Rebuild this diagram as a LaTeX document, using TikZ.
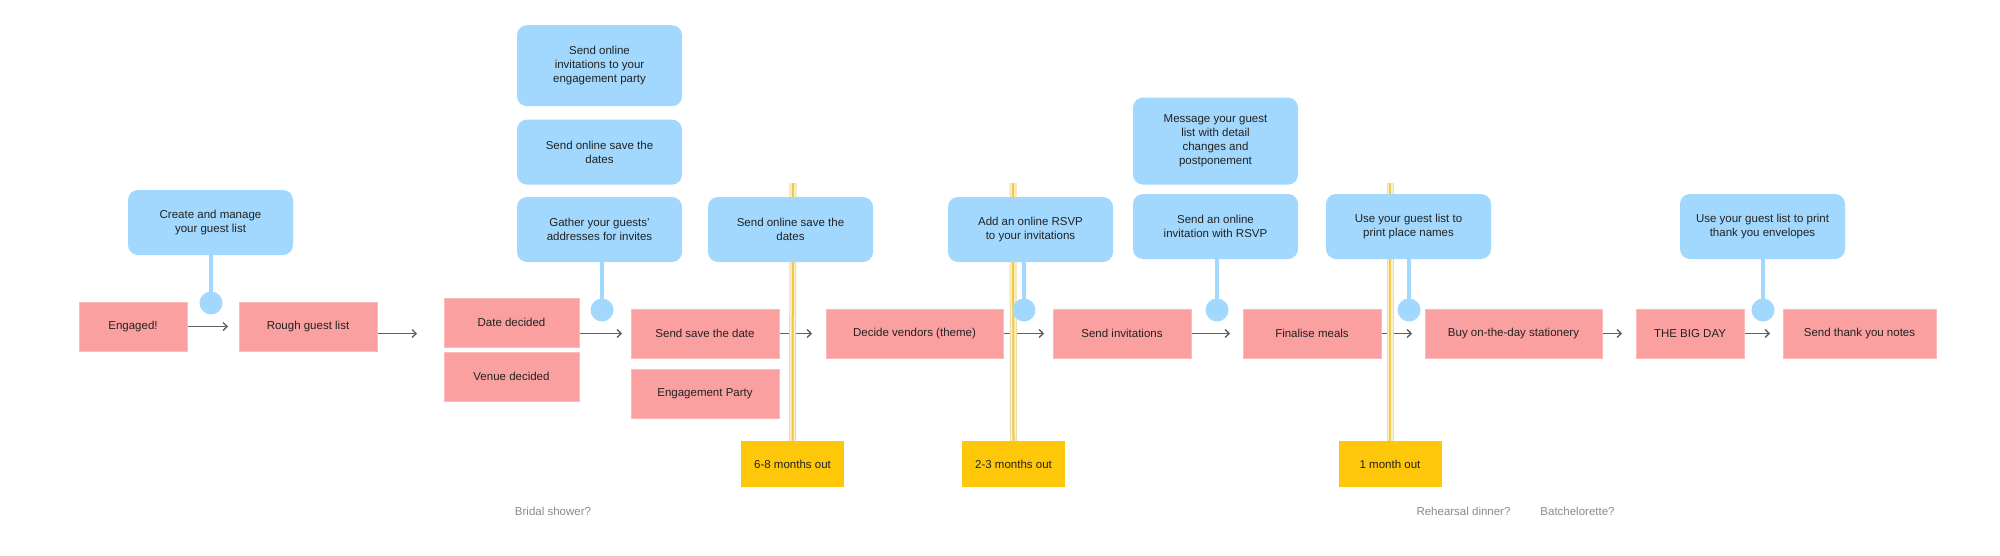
\documentclass[tikz,border=0pt]{standalone}
\usepackage{fontspec}
\setmainfont{Liberation Sans}
\usepackage{xcolor}
\usetikzlibrary{positioning,arrows.meta,backgrounds}

\definecolor{pinkbox}{HTML}{FBA0A0}
\definecolor{pinkedge}{HTML}{FDB9B9}
\definecolor{bluebox}{HTML}{A2D8FE}
\definecolor{goldbox}{HTML}{FFC70A}
\definecolor{goldline}{HTML}{F2C744}
\definecolor{goldhalo}{HTML}{FAF1D2}
\definecolor{goldedge}{HTML}{EEDC9E}
\definecolor{inkgrey}{HTML}{616161}
\definecolor{notegrey}{HTML}{8A8A8A}
\definecolor{ink}{HTML}{222222}

\begin{document}
\begin{tikzpicture}[
    x=1pt,y=-1pt,
    every node/.style={font=\fontsize{11.5}{14}\selectfont,align=center,
                       text=ink,inner sep=0pt},
    task/.style={rectangle,fill=pinkbox,draw=pinkedge,line width=1pt,
                 outer sep=0pt,minimum height=49pt},
    hint/.style={rectangle,fill=bluebox,rounded corners=10pt,
                 minimum width=165pt,minimum height=65pt},
    stage/.style={rectangle,fill=goldbox,minimum width=103pt,minimum height=46pt},
    knob/.style={circle,fill=bluebox,minimum size=23pt},
    stalk/.style={draw=bluebox,line width=4pt},
    guide/.style={draw=goldedge,double=goldhalo,double distance=5pt,line width=1pt},
    guidecore/.style={draw=goldline,line width=2pt},
    aside/.style={text=notegrey},
    arrow/.style={-{Straight Barb[length=4pt,width=8pt]},line width=1.3pt,
                  draw=inkgrey,shorten >=13pt},
]
    \useasboundingbox (0,0) rectangle (2000,555);

    % main row
    \node[task,minimum width=108pt] (engaged) at (133,326.5) {Engaged!};
    \node[task,minimum width=138pt,right=52pt of engaged] (rough) {Rough guest list};
    \node[task,minimum width=135pt] (date) at (511.5,322.5) {Date decided};
    \node[task,minimum width=135pt,below=5pt of date] (venue) {Venue decided};
    \node[task,minimum width=148pt] (savedate) at (705,333.5) {Send save the date};
    \node[task,minimum width=148pt,below=11pt of savedate] (party) {Engagement Party};
    \node[task,minimum width=177pt,right=47pt of savedate] (vendors) {Decide vendors (theme)};
    \node[task,minimum width=138pt,right=50pt of vendors] (invites) {Send invitations};
    \node[task,minimum width=138pt,right=52pt of invites] (meals) {Finalise meals};
    \node[task,minimum width=177pt,right=44pt of meals] (stationery) {Buy on-the-day stationery};
    \node[task,minimum width=108pt,right=34pt of stationery] (bigday) {THE BIG DAY};
    \node[task,minimum width=153pt,right=39pt of bigday] (thanks) {Send thank you notes};

    % guest list tips
    \node[hint] (create) at (210.5,222.5) {Create and manage\\your guest list};
    \node[hint] (gather) at (599.5,229.5) {Gather your guests'\\addresses for invites};
    \node[hint,above=12pt of gather] (onlinesave) {Send online save the\\dates};
    \node[hint,minimum height=81pt,above=13pt of onlinesave] (partyinv)
        {Send online\\invitations to your\\engagement party};
    \node[hint] (savedates) at (790.5,229.5) {Send online save the\\dates};
    \node[hint] (rsvp) at (1030.5,229.5) {Add an online RSVP\\to your invitations};
    \node[hint] (rsvpinv) at (1215.5,226.5) {Send an online\\invitation with RSVP};
    \node[hint,minimum height=87pt,above=9pt of rsvpinv] (message)
        {Message your guest\\list with detail\\changes and\\postponement};
    \node[hint] (places) at (1408.5,226.5) {Use your guest list to\\print place names};
    \node[hint] (envelopes) at (1762.5,226.5) {Use your guest list to print\\thank you envelopes};

    % knobs
    \node[knob] (k1) at (211,303) {};
    \node[knob] (k2) at (602,310) {};
    \node[knob] (k3) at (1024,310) {};
    \node[knob] (k4) at (1217,310) {};
    \node[knob] (k5) at (1409,310) {};
    \node[knob] (k6) at (1763,310) {};
    \draw[stalk] (k1.center) -- (k1 |- create.south);
    \draw[stalk] (k2.center) -- (k2 |- gather.south);
    \draw[stalk] (k3.center) -- (k3 |- rsvp.south);
    \draw[stalk] (k4.center) -- (k4 |- rsvpinv.south);
    \draw[stalk] (k5.center) -- (k5 |- places.south);
    \draw[stalk] (k6.center) -- (k6 |- envelopes.south);

    % time markers
    \node[stage] (six) at (792.5,464) {6-8 months out};
    \node[stage] (two) at (1013.5,464) {2-3 months out};
    \node[stage] (one) at (1390,464) {1 month out};
    \coordinate (sixtop) at (793,183);
    \coordinate (twotop) at (1013,183);
    \coordinate (onetop) at (1390,183);

    \node[aside] (shower) at (553,511) {Bridal shower?};
    \node[aside] (rehearsal) at (1463.5,511) {Rehearsal dinner?};
    \node[aside] (hens) at (1577.5,511) {Batchelorette?};

    \begin{scope}[on background layer]
        \fill[white] (0,0) rectangle (2000,555);
        \draw[arrow,shorten >=11pt] (engaged) -- (rough);
        \draw[arrow,shorten >=27pt] (rough.east |- savedate.west) -- (date.west |- savedate.west);
        \draw[arrow,shorten >=9pt] (date.east |- savedate.west) -- (savedate.west);
        \draw[arrow,shorten >=14pt] (savedate) -- (vendors);
        \draw[arrow,shorten >=9pt] (vendors) -- (invites);
        \draw[arrow] (invites) -- (meals);
        \draw[arrow] (meals) -- (stationery);
        \draw[arrow,shorten >=14pt] (stationery) -- (bigday);
        \draw[arrow] (bigday) -- (thanks);
        \draw[guide] (sixtop) -- (six.north);
        \draw[guide] (twotop) -- (two.north);
        \draw[guide] (onetop) -- (one.north);
        \draw[guidecore] (sixtop) -- (six.north);
        \draw[guidecore] (twotop) -- (two.north);
        \draw[guidecore] (onetop) -- (one.north);
    \end{scope}
\end{tikzpicture}
\end{document}
